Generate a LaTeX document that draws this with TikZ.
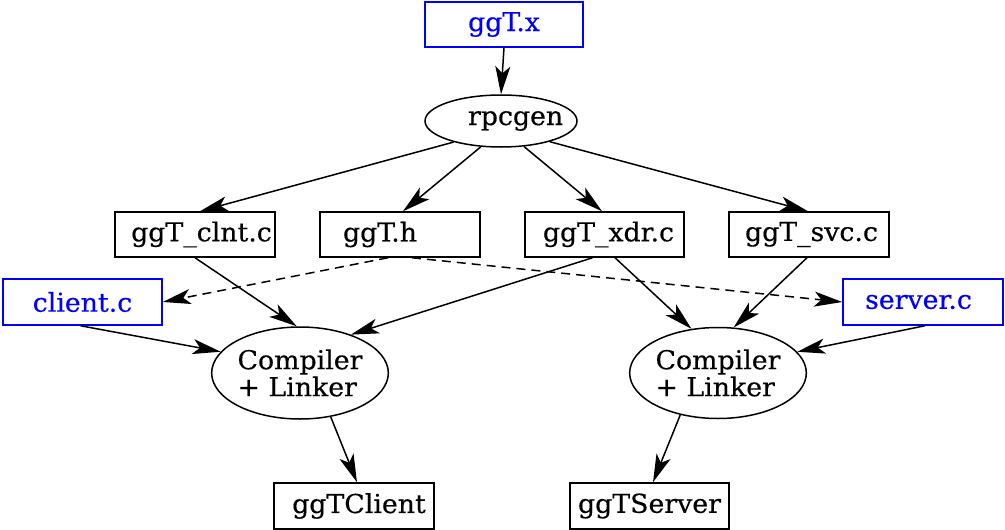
\documentclass[tikz,border=0pt]{standalone}
\usepackage{fontspec}
\setmainfont{DejaVu Serif}[FakeStretch=1.03,FakeBold=0.4]
\usetikzlibrary{arrows.meta,calc,shapes.geometric}
\definecolor{gvblue}{RGB}{0,0,255}
\tikzset{
  every node/.style={font=\fontsize{26}{27}\selectfont, inner sep=0pt, line width=1.5pt},
  filebox/.style={draw, rectangle, minimum width=160pt, minimum height=45pt},
  srcbox/.style={filebox, draw=gvblue, text=gvblue},
  procell/.style={draw, ellipse},
  edge/.style={line width=1.5pt, -{Stealth[length=28pt,width=15pt,inset=7pt]}},
  dedge/.style={edge, dash pattern=on 9pt off 6pt}
}
\begin{document}
\begin{tikzpicture}[x=1pt,y=-1pt]
\useasboundingbox (0,0) rectangle (1005,530);
\node[srcbox, minimum width=158pt] (x) at (504,24.5) {ggT.x};
\node[procell, minimum width=152pt, minimum height=52pt] (rpc) at (501,121) {\hbox to 0pt{\kern-33pt rpcgen\hss}};
\node[filebox] (clnt) at (195,234.5) {\kern13pt ggT\_clnt.c};
\node[filebox] (h) at (400,234.5) {ggT.h\kern40pt};
\node[filebox, minimum width=159pt] (xdr) at (604.5,234.5) {\kern8pt ggT\_xdr.c};
\node[filebox] (svc) at (809,234.5) {\kern5pt ggT\_svc.c};
\node[srcbox, minimum width=159pt, minimum height=46pt] (client) at (82.5,302) {client.c};
\node[srcbox, minimum height=46pt] (server) at (923,302) {server.c\kern9pt};
\node[procell, minimum width=174pt, minimum height=92pt, align=left] (compL) at (300,373) {Compiler\\+ Linker};
\node[procell, minimum width=172pt, minimum height=91pt, align=left] (compR) at (718,373) {Compiler\\+ Linker};
\node[filebox, minimum height=46pt] (cl) at (354,506) {\kern10pt ggTClient};
\node[filebox, minimum width=159pt, minimum height=46pt] (sv) at (649.5,506) {ggTServer};

\draw[edge] (x.south) -- (rpc.north);
\draw[edge] (rpc.204) -- ($(clnt.north)+(5,0)$);
\draw[edge] (rpc.232) -- ($(h.north)+(3,0)$);
\draw[edge] (rpc.312) -- ($(xdr.north)+(-2.5,0)$);
\draw[edge] (rpc.337) -- ($(svc.north)+(-1,0)$);
\draw[edge] (clnt.south) -- (compL.94);
\draw[edge] ($(xdr.south)+(-12,0)$) -- (compL.37);
\draw[edge] ($(xdr.south)+(10.5,0)$) -- (compR.121);
\draw[edge] ($(svc.south)+(-2,0)$) -- (compR.71);
\draw[edge] ($(client.south)+(-2,0)$) -- (compL.165);
\draw[edge] ($(server.south)+(2,0)$) -- (compR.15);
\draw[edge] (compL.305) -- ($(cl.north)+(3,0)$);
\draw[edge] (compR.228) -- ($(sv.north)+(3.5,0)$);
\draw[dedge] ($(h.south)+(-12,0)$) -- (client.east);
\draw[dedge] ($(h.south)+(12,0)$) -- (server.west);
\end{tikzpicture}
\end{document}
